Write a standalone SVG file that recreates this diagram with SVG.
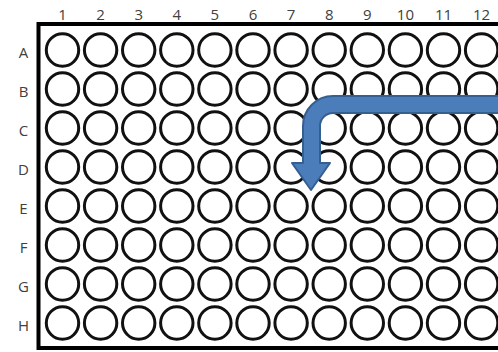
<svg xmlns="http://www.w3.org/2000/svg" xmlns:xlink="http://www.w3.org/1999/xlink" width="498" height="352" viewBox="0 0 498 352">
<style>
.lbl{font-family:"Open Sans","Liberation Sans",sans-serif;font-size:15px;fill:#404040;text-anchor:middle}
.well{fill:#fff;stroke:#111;stroke-width:3}
</style>
<defs>
<circle id="w" r="16.2" class="well"/>
</defs>
<rect x="0" y="0" width="498" height="352" fill="#fff"/>
<g id="plate">
<rect x="38.5" y="24" width="480" height="324" fill="#fff" stroke="#000" stroke-width="4"/>
</g>
<g id="col-labels">
<text class="lbl" x="62.5" y="20">1</text>
<text class="lbl" x="100.6" y="20">2</text>
<text class="lbl" x="138.7" y="20">3</text>
<text class="lbl" x="176.8" y="20">4</text>
<text class="lbl" x="214.9" y="20">5</text>
<text class="lbl" x="253" y="20">6</text>
<text class="lbl" x="291.1" y="20">7</text>
<text class="lbl" x="329.2" y="20">8</text>
<text class="lbl" x="367.3" y="20">9</text>
<text class="lbl" x="405.4" y="20">10</text>
<text class="lbl" x="443.5" y="20">11</text>
<text class="lbl" x="481.6" y="20">12</text>
</g>
<g id="row-labels">
<text class="lbl" x="23.5" y="58">A</text>
<text class="lbl" x="23.5" y="97">B</text>
<text class="lbl" x="23.5" y="136">C</text>
<text class="lbl" x="23.5" y="175">D</text>
<text class="lbl" x="23.5" y="214">E</text>
<text class="lbl" x="23.5" y="253">F</text>
<text class="lbl" x="23.5" y="292">G</text>
<text class="lbl" x="23.5" y="331">H</text>
</g>
<g id="row-A" transform="translate(0,50)">
<use xlink:href="#w" x="62.5"/><use xlink:href="#w" x="100.6"/><use xlink:href="#w" x="138.7"/><use xlink:href="#w" x="176.8"/><use xlink:href="#w" x="214.9"/><use xlink:href="#w" x="253"/><use xlink:href="#w" x="291.1"/><use xlink:href="#w" x="329.2"/><use xlink:href="#w" x="367.3"/><use xlink:href="#w" x="405.4"/><use xlink:href="#w" x="443.5"/><use xlink:href="#w" x="481.6"/>
</g>
<g id="row-B" transform="translate(0,89)">
<use xlink:href="#w" x="62.5"/><use xlink:href="#w" x="100.6"/><use xlink:href="#w" x="138.7"/><use xlink:href="#w" x="176.8"/><use xlink:href="#w" x="214.9"/><use xlink:href="#w" x="253"/><use xlink:href="#w" x="291.1"/><use xlink:href="#w" x="329.2"/><use xlink:href="#w" x="367.3"/><use xlink:href="#w" x="405.4"/><use xlink:href="#w" x="443.5"/><use xlink:href="#w" x="481.6"/>
</g>
<g id="row-C" transform="translate(0,128)">
<use xlink:href="#w" x="62.5"/><use xlink:href="#w" x="100.6"/><use xlink:href="#w" x="138.7"/><use xlink:href="#w" x="176.8"/><use xlink:href="#w" x="214.9"/><use xlink:href="#w" x="253"/><use xlink:href="#w" x="291.1"/><use xlink:href="#w" x="329.2"/><use xlink:href="#w" x="367.3"/><use xlink:href="#w" x="405.4"/><use xlink:href="#w" x="443.5"/><use xlink:href="#w" x="481.6"/>
</g>
<g id="row-D" transform="translate(0,167)">
<use xlink:href="#w" x="62.5"/><use xlink:href="#w" x="100.6"/><use xlink:href="#w" x="138.7"/><use xlink:href="#w" x="176.8"/><use xlink:href="#w" x="214.9"/><use xlink:href="#w" x="253"/><use xlink:href="#w" x="291.1"/><use xlink:href="#w" x="329.2"/><use xlink:href="#w" x="367.3"/><use xlink:href="#w" x="405.4"/><use xlink:href="#w" x="443.5"/><use xlink:href="#w" x="481.6"/>
</g>
<g id="row-E" transform="translate(0,206)">
<use xlink:href="#w" x="62.5"/><use xlink:href="#w" x="100.6"/><use xlink:href="#w" x="138.7"/><use xlink:href="#w" x="176.8"/><use xlink:href="#w" x="214.9"/><use xlink:href="#w" x="253"/><use xlink:href="#w" x="291.1"/><use xlink:href="#w" x="329.2"/><use xlink:href="#w" x="367.3"/><use xlink:href="#w" x="405.4"/><use xlink:href="#w" x="443.5"/><use xlink:href="#w" x="481.6"/>
</g>
<g id="row-F" transform="translate(0,245)">
<use xlink:href="#w" x="62.5"/><use xlink:href="#w" x="100.6"/><use xlink:href="#w" x="138.7"/><use xlink:href="#w" x="176.8"/><use xlink:href="#w" x="214.9"/><use xlink:href="#w" x="253"/><use xlink:href="#w" x="291.1"/><use xlink:href="#w" x="329.2"/><use xlink:href="#w" x="367.3"/><use xlink:href="#w" x="405.4"/><use xlink:href="#w" x="443.5"/><use xlink:href="#w" x="481.6"/>
</g>
<g id="row-G" transform="translate(0,284)">
<use xlink:href="#w" x="62.5"/><use xlink:href="#w" x="100.6"/><use xlink:href="#w" x="138.7"/><use xlink:href="#w" x="176.8"/><use xlink:href="#w" x="214.9"/><use xlink:href="#w" x="253"/><use xlink:href="#w" x="291.1"/><use xlink:href="#w" x="329.2"/><use xlink:href="#w" x="367.3"/><use xlink:href="#w" x="405.4"/><use xlink:href="#w" x="443.5"/><use xlink:href="#w" x="481.6"/>
</g>
<g id="row-H" transform="translate(0,323)">
<use xlink:href="#w" x="62.5"/><use xlink:href="#w" x="100.6"/><use xlink:href="#w" x="138.7"/><use xlink:href="#w" x="176.8"/><use xlink:href="#w" x="214.9"/><use xlink:href="#w" x="253"/><use xlink:href="#w" x="291.1"/><use xlink:href="#w" x="329.2"/><use xlink:href="#w" x="367.3"/><use xlink:href="#w" x="405.4"/><use xlink:href="#w" x="443.5"/><use xlink:href="#w" x="481.6"/>
</g>
<g id="connectors">
<path d="M 505 96 L 333 96 A 30 30 0 0 0 303 126 L 303 163 L 292 163 L 311 190 L 330 163 L 320 163 L 320 126 A 13 13 0 0 1 333 113 L 505 113 Z" fill="#4A7DBA" stroke="#365F91" stroke-width="2" stroke-linejoin="round"/>
</g>
</svg>
